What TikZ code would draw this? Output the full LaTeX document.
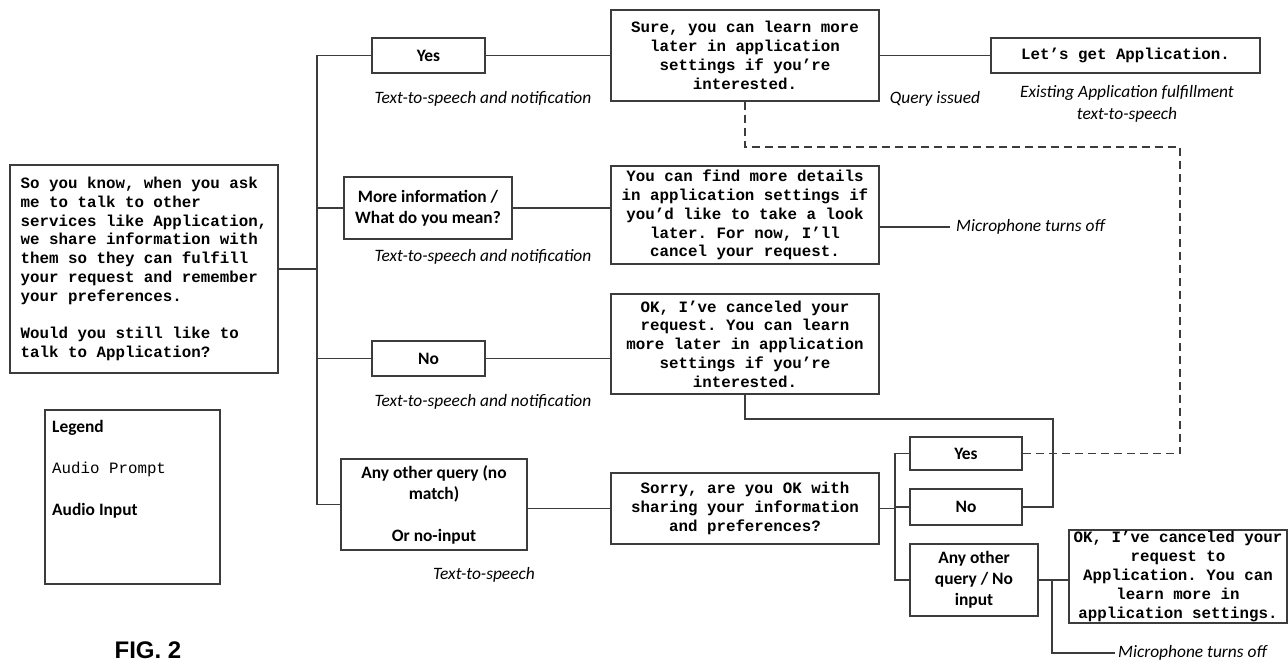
\documentclass[tikz,border=0pt]{standalone}
\usepackage{fontspec}
\setmainfont{Carlito}
\setmonofont{Liberation Mono}
\newfontfamily\figfont{Liberation Sans}
\definecolor{linegray}{HTML}{3C3C3C}
\begin{document}
\begin{tikzpicture}[x=1pt,y=-1pt,
  prompt/.style={draw=linegray,line width=1.3pt,align=center,inner sep=0pt,
    font=\ttfamily\bfseries\fontsize{15.8}{18.8}\selectfont},
  answer/.style={draw=linegray,line width=1.3pt,align=center,inner sep=0pt,
    font=\bfseries\fontsize{17.4}{21}\selectfont},
  note/.style={align=center,inner sep=0pt,font=\itshape\fontsize{17.4}{22}\selectfont},
  wire/.style={draw=linegray,line width=1.3pt}]
\useasboundingbox (0,0) rectangle (1288,664);
% opening prompt
\node[prompt,align=left,minimum width=268pt,minimum height=208pt] (main) at (144,269)
  {So you know, when you ask\\me to talk to other\\services like Application,\\we share information with\\them so they can fulfill\\your request and remember\\your preferences.\\[18.8pt]Would you still like to\\talk to Application?};
% first answers
\node[answer,minimum width=113pt,minimum height=35pt] (yes) at (428.5,55.5) {Yes};
\node[answer,minimum width=168pt,minimum height=62pt] (moreinfo) at (428,208) {More information /\\What do you mean?};
\node[answer,minimum width=113pt,minimum height=35pt] (no) at (428.5,358.5) {No};
\node[answer,minimum width=186pt,minimum height=91pt] (anyq) at (434,504.5) {Any other query (no\\match)\\[21pt]Or no-input};
% replies
\node[prompt,minimum width=268pt,minimum height=91pt] (sure) at (745,55.5) {Sure, you can learn more\\later in application\\settings if you’re\\interested.};
\node[prompt,minimum width=269pt,minimum height=35pt] (lets) at (1125.5,55.5) {Let’s get Application.};
\node[prompt,minimum width=268pt,minimum height=98pt] (find) at (745,215) {You can find more details\\in application settings if\\you’d like to take a look\\later. For now, I’ll\\cancel your request.};
\node[prompt,minimum width=268pt,minimum height=100pt] (ok) at (745,344) {OK, I’ve canceled your\\request. You can learn\\more later in application\\settings if you’re\\interested.};
\node[prompt,minimum width=268pt,minimum height=71pt] (sorry) at (745,508.5) {Sorry, are you OK with\\sharing your information\\and preferences?};
% second answers
\node[answer,minimum width=112pt,minimum height=33pt] (yes2) at (966,453.5) {Yes};
\node[answer,minimum width=112pt,minimum height=36pt] (no2) at (966,507) {No};
\node[answer,minimum width=128pt,minimum height=72pt] (any2) at (974,580) {Any other\\query / No\\input};
\node[prompt,minimum width=218pt,minimum height=93pt] (ok2) at (1178,576.5) {OK, I’ve canceled your\\request to\\Application. You can\\learn more in\\application settings.};
% notes
\node[note] (tts1) at (483,99) {Text-to-speech and notification};
\node[note] (tts2) at (483,257) {Text-to-speech and notification};
\node[note] (tts3) at (483,402) {Text-to-speech and notification};
\node[note] (tts4) at (484,575) {Text-to-speech};
\node[note] (issued) at (935,99) {Query issued};
\node[note] (existing) at (1127,104) {Existing Application fulfillment\\text-to-speech};
\node[note,anchor=west,inner xsep=6pt] (mic1) at (950,227) {Microphone turns off};
\node[note,anchor=west,inner xsep=3pt] (mic2) at (1115,653) {Microphone turns off};
% legend
\node[draw=linegray,line width=1.3pt,minimum width=175pt,minimum height=174pt] (legend) at (132.5,497) {};
\node[anchor=west,inner sep=0pt,font=\bfseries\fontsize{17.4}{21}\selectfont] (legtitle) at (52,428) {Legend};
\node[anchor=west,inner sep=0pt,font=\ttfamily\fontsize{15.8}{18.8}\selectfont] (legprompt) at (52,469) {Audio Prompt};
\node[anchor=west,inner sep=0pt,font=\bfseries\fontsize{17.4}{21}\selectfont] (leginput) at (52,511) {Audio Input};
\node[inner sep=0pt,font=\figfont\bfseries\fontsize{24}{28}\selectfont] (fig) at (148,650) {FIG. 2};
% connectors
\coordinate (trunk) at (317,0);
\draw[wire] (main.east) -- (main.east -| trunk);
\draw[wire] (yes.west) -- (yes.west -| trunk) -- (anyq.west -| trunk) -- (anyq.west);
\draw[wire] (moreinfo.west) -- (moreinfo.west -| trunk);
\draw[wire] (no.west) -- (no.west -| trunk);
\draw[wire] (yes.east) -- (sure.west);
\draw[wire] (sure.east) -- (lets.west);
\draw[wire] (moreinfo.east) -- (moreinfo.east -| find.west);
\draw[wire] (mic1.west -| find.east) -- (mic1.west);
\draw[wire] (no.east) -- (no.east -| ok.west);
\draw[wire] (sorry.west -| anyq.east) -- (sorry.west);
\coordinate (fork) at (895,0);
\draw[wire] (sorry.east) -- (sorry.east -| fork);
\draw[wire] (yes2.west) -- (yes2.west -| fork) -- (any2.west -| fork) -- (any2.west);
\draw[wire] (no2.west) -- (no2.west -| fork);
\draw[wire] (any2.east) -- (any2.east -| ok2.west);
\coordinate (micjoin) at (1052,0);
\draw[wire] (any2.east -| micjoin) |- (mic2.west);
\coordinate (okjoin) at (1053,419);
\draw[wire] (ok.south) |- (okjoin) |- (no2.east);
\coordinate (loop) at (1180,147);
\draw[wire,dash pattern=on 8pt off 5pt] (sure.south) |- (loop) |- (yes2.east);
\end{tikzpicture}
\end{document}
